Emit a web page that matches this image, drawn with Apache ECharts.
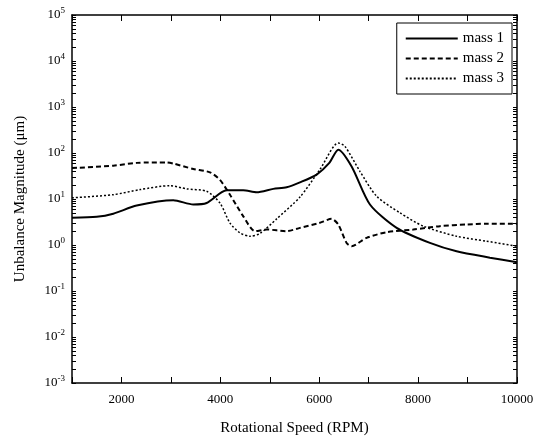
<!DOCTYPE html>
<html>
<head>
<meta charset="utf-8">
<script src="https://cdn.jsdelivr.net/npm/echarts@6/dist/echarts.min.js"></script>
<style>html,body{margin:0;padding:0;background:#fff}#c{width:542px;height:441px}</style>
</head>
<body>
<div id="c"></div>
<script>
var seriesNames = ['mass 1', 'mass 2', 'mass 3'];
var mass1Rpm = [1000, 1500, 1835, 2308, 3049, 3453, 3723, 4128, 4464, 4734, 5071, 5341, 5610, 5948, 6200, 6385, 6655, 7026, 7566, 8239, 8778, 9452, 10000];
var mass1Val = [3.9, 4.1, 4.8, 7.2, 9.4, 7.6, 8.2, 15.4, 15.4, 14, 16.6, 18, 23, 34, 60, 118, 51, 7.6, 2.36, 1.11, 0.73, 0.53, 0.42];
var mass2Rpm = [1000, 1835, 2308, 2915, 3049, 3453, 3790, 3992, 4195, 4464, 4700, 4937, 5341, 5610, 6000, 6250, 6385, 6554, 6655, 6958, 7363, 7902, 8441, 8980, 9385, 10000];
var mass2Val = [47, 53, 61, 62.5, 59, 45, 38, 26, 12.4, 4.2, 2.0, 2.17, 2.0, 2.36, 3.0, 3.7, 2.8, 1.11, 0.94, 1.43, 1.9, 2.17, 2.57, 2.79, 2.9, 2.9];
var mass3Rpm = [1000, 1835, 2375, 2982, 3319, 3723, 3992, 4195, 4397, 4599, 4802, 5139, 5610, 6015, 6385, 6520, 6823, 7161, 7633, 8104, 8778, 9385, 10000];
var mass3Val = [10.6, 12.4, 16, 19.5, 16.6, 14.7, 8.2, 3.0, 1.84, 1.55, 1.78, 3.7, 11, 44, 165, 140, 40, 11.5, 5.0, 2.57, 1.55, 1.21, 0.94];
var xTickLabels = [2000, 4000, 6000, 8000, 10000];
var yExponents = [-3, -2, -1, 0, 1, 2, 3, 4, 5];

function pairs(xs, ys) { return xs.map(function (x, i) { return [x, ys[i]]; }); }
var majorVals = yExponents.map(function (e) { return Math.pow(10, e); });
var allTickVals = majorVals.slice();
for (var e = -3; e < 5; e++) { for (var m = 2; m <= 9; m++) { allTickVals.push(m * Math.pow(10, e)); } }
allTickVals.sort(function (a, b) { return a - b; });

var font = 'Liberation Serif';
var chart = echarts.init(document.getElementById('c'), null, { renderer: 'canvas' });
function yAx(pos, showLabel, ticks, len, showLine) {
  return {
    type: 'log', logBase: 10, min: 0.001, max: 100000, position: pos,
    axisLine: { show: showLine, onZero: false, lineStyle: { color: '#000', width: 1.5 } },
    axisTick: { show: true, inside: true, length: len, customValues: ticks, lineStyle: { color: '#000', width: 1 } },
    splitLine: { show: false },
    axisLabel: showLabel ? {
      show: true, customValues: majorVals, margin: 7, fontFamily: font, fontSize: 13, color: '#000',
      formatter: function (v) { var ex = Math.round(Math.log10(v)); return '10{s|' + ex + '}'; },
      rich: { s: { fontFamily: font, fontSize: 9, color: '#000', verticalAlign: 'top', padding: [0, 0, 8, 0] } }
    } : { show: false },
    name: showLabel ? 'Unbalance Magnitude (\u03bcm)' : '',
    nameLocation: 'middle', nameGap: 44,
    nameTextStyle: { fontFamily: font, fontSize: 15, color: '#000' }
  };
}
function xAx(pos, showLabel) {
  return {
    type: 'value', min: 1000, max: 10000, interval: 1000, position: pos,
    axisLine: { show: true, onZero: false, lineStyle: { color: '#000', width: 1.5 } },
    axisTick: { show: true, inside: true, length: 6, lineStyle: { color: '#000' } },
    splitLine: { show: false },
    axisLabel: showLabel ? {
      show: true, margin: 10, fontFamily: font, fontSize: 13, color: '#000',
      formatter: function (v) { return xTickLabels.indexOf(v) >= 0 ? String(v) : ''; }
    } : { show: false },
    name: showLabel ? 'Rotational Speed (RPM)' : '',
    nameLocation: 'middle', nameGap: 38,
    nameTextStyle: { fontFamily: font, fontSize: 15, color: '#000' }
  };
}
var styles = [
  { type: 'solid', width: 2 },
  { type: [5, 3], width: 2 },
  { type: [2, 2], width: 1.5 }
];
var datas = [pairs(mass1Rpm, mass1Val), pairs(mass2Rpm, mass2Val), pairs(mass3Rpm, mass3Val)];
chart.setOption({
  animation: false,
  backgroundColor: '#fff',
  grid: { left: 72, right: 25, top: 15, bottom: 57, containLabel: false },
  xAxis: [xAx('bottom', true), xAx('top', false)],
  yAxis: [yAx('left', true, allTickVals, 4, true), yAx('right', false, allTickVals, 4, true)],
  legend: {
    orient: 'vertical', right: 30, top: 23, itemWidth: 52, itemHeight: 8, itemGap: 5,
    backgroundColor: '#fff', borderColor: '#000', borderWidth: 1, padding: [8, 8, 8, 8],
    textStyle: { fontFamily: font, fontSize: 15, color: '#000' },
    itemStyle: { opacity: 0, borderWidth: 0 },
    data: seriesNames
  },
  series: seriesNames.map(function (n, i) {
    return {
      name: n, type: 'line', xAxisIndex: 0, yAxisIndex: 0, data: datas[i],
      showSymbol: false, symbol: 'none', smooth: 0.25,
      lineStyle: { color: '#000', type: styles[i].type, width: styles[i].width },
      itemStyle: { color: '#000' }
    };
  })
});
</script>
</body>
</html>
